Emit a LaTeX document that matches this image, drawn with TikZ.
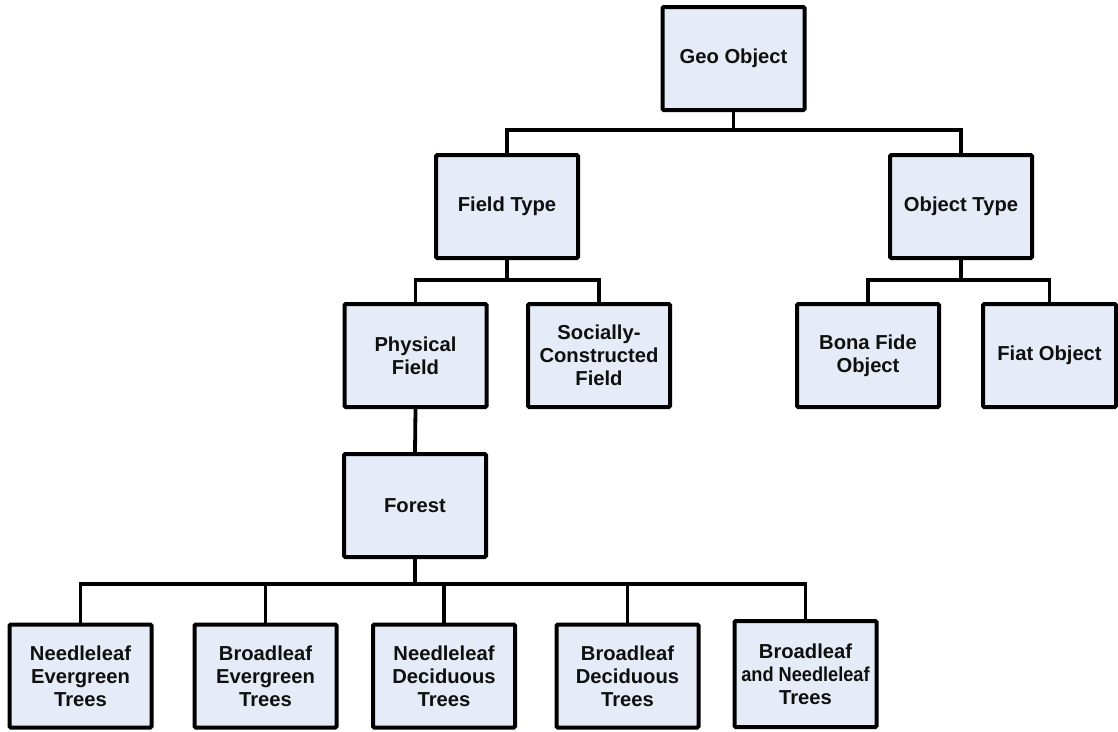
\documentclass[tikz,border=0pt]{standalone}
\usepackage{graphicx}
\usepackage{fontspec}
\setmainfont{Liberation Sans}
\definecolor{boxfill}{RGB}{230,236,247}
\definecolor{ink}{RGB}{15,15,15}
\tikzset{
  cls/.style={draw=black, line width=4pt, fill=boxfill, rounded corners=1.2pt,
    minimum width=142pt, minimum height=103pt, inner sep=0pt, align=center,
    text=ink, font=\fontsize{20.2}{23.2}\selectfont\bfseries},
  link/.style={draw=black, line width=3.8pt, line join=miter}
}
\begin{document}
\begin{tikzpicture}[x=1pt,y=-1pt]
\useasboundingbox (0,0) rectangle (1118,731);

% top level
\node[cls] (geo) at (733.5,58.5) {Geo Object};

% second level
\node[cls] (field) at (507,206.5) {Field Type};
\node[cls] (object) at (961,206.5) {Object Type};

% third level
\node[cls] (phys) at (415.5,355.5) {Physical\\Field};
\node[cls] (soc) at (599,355.5) {Socially-\\Constructed\\Field};
\node[cls] (bona) at (868,355.5) {Bona Fide\\Object};
\node[cls, minimum width=133pt] (fiat) at (1049.5,355.5) {Fiat Object};

% forest
\node[cls] (forest) at (415,505.5) {Forest};

% forest types
\node[cls] (ne) at (80.5,676) {Needleleaf\\Evergreen\\Trees};
\node[cls] (be) at (265.5,676) {Broadleaf\\Evergreen\\Trees};
\node[cls] (nd) at (444,676) {Needleleaf\\Deciduous\\Trees};
\node[cls] (bd) at (627.5,676) {Broadleaf\\Deciduous\\Trees};
\node[cls, minimum height=106pt] (bn) at (805.5,674)
  {Broadleaf\\\scalebox{0.9}[1]{and Needleleaf}\\Trees};

% junction points on the horizontal bars
\coordinate (j1) at (733.5,130);
\coordinate (j2) at (507,280);
\coordinate (j3) at (961,280);
\coordinate (j4) at (415,584);

% connectors
\draw[link] (geo.south) -- (j1);
\draw[link] (field.north) |- (j1) -| (object.north);

\draw[link] (field.south) -- (j2);
\draw[link] (phys.north) |- (j2) -| (soc.north);

\draw[link] (object.south) -- (j3);
\draw[link] (bona.north) |- (j3) -| (fiat.north);

\draw[link] (phys.south) -- (forest.north);

\draw[link] (forest.south) -- (j4);
\draw[link] (ne.north) |- (j4) -| (bn.north);
\draw[link] (be.north) -- (be.north |- j4);
\draw[link] (nd.north) -- (nd.north |- j4);
\draw[link] (bd.north) -- (bd.north |- j4);
\end{tikzpicture}
\end{document}
